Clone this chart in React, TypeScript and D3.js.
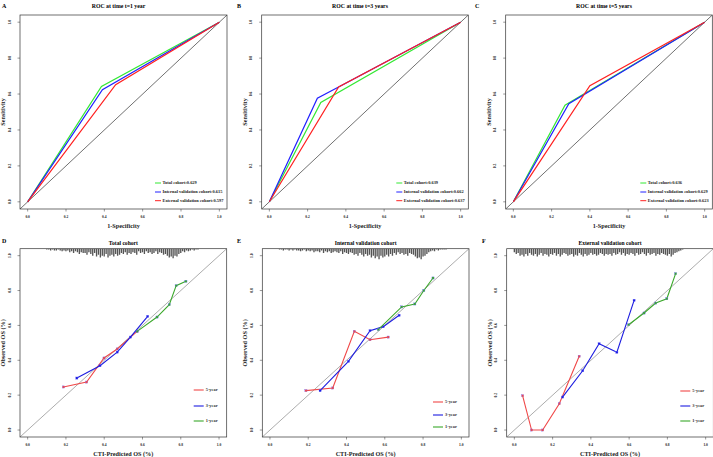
import React, { useEffect } from "react";
import * as d3 from "d3";

// ---------- DATA ----------
const rocTitles = ["ROC at time t=1 year", "ROC at time t=3 years", "ROC at time t=5 years"];
const rocLetters = ["A", "B", "C"];
const cohortNames = ["Total cohort", "Internal validation cohort", "External validation cohort"];
const rocAUC_A = [0.629, 0.615, 0.597];
const rocAUC_B = [0.639, 0.662, 0.637];
const rocAUC_C = [0.636, 0.629, 0.623];

// ROC points [1-specificity, sensitivity]
const rocA_total: [number, number][] = [[0, 0], [0.385, 0.642], [1, 1]];
const rocA_internal: [number, number][] = [[0, 0], [0.39, 0.624], [1, 1]];
const rocA_external: [number, number][] = [[0, 0], [0.459, 0.652], [1, 1]];
const rocB_total: [number, number][] = [[0, 0], [0.269, 0.553], [1, 1]];
const rocB_internal: [number, number][] = [[0, 0], [0.251, 0.577], [0.362, 0.639], [1, 1]];
const rocB_external: [number, number][] = [[0, 0], [0.362, 0.639], [1, 1]];
const rocC_total: [number, number][] = [[0, 0], [0.27, 0.538], [1, 1]];
const rocC_internal: [number, number][] = [[0, 0], [0.29, 0.546], [1, 1]];
const rocC_external: [number, number][] = [[0, 0], [0.4, 0.646], [1, 1]];

const calTitles = ["Total cohort", "Internal validation cohort", "External validation cohort"];
const calLetters = ["D", "E", "F"];
const calSeriesNames = ["5-year", "3-year", "1-year"];

// Calibration points [predicted, observed]
const calD_5yr: [number, number][] = [[0.187, 0.247], [0.308, 0.275], [0.399, 0.413], [0.468, 0.465], [0.572, 0.566]];
const calD_3yr: [number, number][] = [[0.257, 0.298], [0.378, 0.369], [0.468, 0.447], [0.537, 0.533], [0.627, 0.652]];
const calD_1yr: [number, number][] = [[0.572, 0.566], [0.676, 0.648], [0.74, 0.719], [0.776, 0.828], [0.827, 0.853]];
const calE_5yr: [number, number][] = [[0.188, 0.226], [0.328, 0.241], [0.441, 0.566], [0.523, 0.518], [0.618, 0.533]];
const calE_3yr: [number, number][] = [[0.262, 0.226], [0.41, 0.394], [0.523, 0.57], [0.592, 0.593], [0.675, 0.658]];
const calE_1yr: [number, number][] = [[0.566, 0.576], [0.688, 0.706], [0.757, 0.723], [0.804, 0.8], [0.852, 0.872]];
const calF_5yr: [number, number][] = [[0.043, 0.197], [0.09, 0.0], [0.148, 0.0], [0.235, 0.151], [0.339, 0.423]];
const calF_3yr: [number, number][] = [[0.252, 0.189], [0.357, 0.34], [0.443, 0.495], [0.536, 0.446], [0.626, 0.744]];
const calF_1yr: [number, number][] = [[0.597, 0.604], [0.678, 0.671], [0.739, 0.728], [0.797, 0.753], [0.843, 0.897]];

// Spike histogram of predicted values (counts per 0.01 bin)
const rugD_start = 0.1;
const rugD_counts = [
  1, 1, 2, 1, 2, 2, 1, 2, 3, 2,
  3, 2, 4, 3, 5, 3, 4, 6, 4, 5,
  5, 7, 4, 6, 8, 5, 9, 7, 10, 8,
  9, 6, 10, 8, 7, 9, 6, 8, 7, 5,
  6, 4, 7, 5, 6, 4, 5, 7, 3, 5,
  4, 6, 3, 5, 4, 6, 5, 3, 6, 4,
  5, 7, 6, 8, 10, 9, 11, 8, 9, 6,
  5, 3, 4, 2, 3, 2, 1, 2, 1, 1,
];
const rugE_start = 0.05;
const rugE_counts = [
  1, 1, 2, 1, 1, 2, 1, 2, 1, 2,
  2, 3, 2, 1, 3, 2, 3, 2, 4, 3,
  3, 4, 2, 5, 3, 4, 3, 5, 4, 3,
  4, 5, 3, 6, 4, 5, 6, 4, 5, 7,
  6, 8, 5, 7, 9, 6, 8, 7, 10, 8,
  11, 9, 12, 8, 10, 9, 7, 9, 6, 8,
  5, 7, 4, 6, 5, 7, 6, 8, 5, 6,
  7, 9, 11, 10, 12, 9, 8, 6, 4, 3,
  2, 3, 1, 2, 1, 1, 1, 1,
];
const rugF_start = 0.0;
const rugF_counts = [
  4, 6, 5, 8, 7, 9, 6, 8, 5, 7,
  8, 6, 9, 7, 5, 8, 6, 7, 9, 6,
  7, 5, 8, 6, 9, 7, 5, 6, 8, 7,
  6, 9, 7, 8, 5, 7, 9, 6, 8, 7,
  5, 7, 6, 8, 7, 5, 6, 8, 6, 7,
  6, 8, 5, 7, 6, 4, 7, 5, 8, 6,
  7, 5, 6, 8, 5, 7, 6, 4, 6, 8,
  5, 7, 6, 5, 8, 6, 7, 5, 6, 7,
  8, 6, 9, 7, 5, 4, 3, 2, 1,
];

const tickValues = [0, 0.2, 0.4, 0.6, 0.8, 1.0];
const tickLabels = ["0.0", "0.2", "0.4", "0.6", "0.8", "1.0"];

// ---------- STYLE / LAYOUT ----------
const W = 713, H = 457;
const FONT = "'Liberation Serif', 'Times New Roman', serif";
const rocColors = ["#33e833", "#2020ff", "#ff2020"];
const calColors = ["#f04848", "#1c1ce0", "#3aa82a"];

type Box = { x0: number; x1: number; y0: number; y1: number };

const rocBoxes: Box[] = [
  { x0: 20, x1: 227, y0: 15, y1: 209 },
  { x0: 261.7, x1: 468.3, y0: 15, y1: 209 },
  { x0: 505.7, x1: 712.3, y0: 15, y1: 209 },
];
const rocLetterX = [2, 237, 475];
const calBoxes: Box[] = [
  { x0: 20, x1: 226.7, y0: 248.7, y1: 437 },
  { x0: 262.3, x1: 469, y0: 248.7, y1: 437 },
  { x0: 506.7, x1: 713.3, y0: 248.7, y1: 437 },
];
const calLetterX = [2, 237, 482];
const calLegendDx = [-33, -36, -33];
const calLegendRows = [[-47, -31, -16], [-35, -22, -10], [-46, -31, -16]];

function scales(b: Box) {
  const x = d3.scaleLinear().domain([-0.04, 1.04]).range([b.x0, b.x1]);
  const y = d3.scaleLinear().domain([-0.04, 1.04]).range([b.y1, b.y0]);
  return { x, y };
}

function Axes({ b, xTitle, yTitle }: { b: Box; xTitle: string; yTitle: string }) {
  const { x, y } = scales(b);
  const cx = (b.x0 + b.x1) / 2;
  const cy = (b.y0 + b.y1) / 2;
  return (
    <g fontFamily={FONT} fontWeight="bold" fill="#222">
      <rect x={b.x0} y={b.y0} width={b.x1 - b.x0} height={b.y1 - b.y0} fill="none" stroke="#333" strokeWidth={0.7} />
      {tickValues.map((t, i) => (
        <g key={"x" + i}>
          <line x1={x(t)} x2={x(t)} y1={b.y1} y2={b.y1 + 2.5} stroke="#333" strokeWidth={0.5} />
          <text x={x(t)} y={b.y1 + 9} fontSize={3.6} textAnchor="middle">{tickLabels[i]}</text>
          <line x1={b.x0} x2={b.x0 - 2.5} y1={y(t)} y2={y(t)} stroke="#333" strokeWidth={0.5} />
          <text transform={`translate(${b.x0 - 10.5},${y(t)}) rotate(-90)`} fontSize={3.6} textAnchor="middle" dy="1.2">{tickLabels[i]}</text>
        </g>
      ))}
      <text x={cx} y={b.y1 + 19} fontSize={6.2} textAnchor="middle">{xTitle}</text>
      <text transform={`translate(${b.x0 - 15},${cy}) rotate(-90)`} fontSize={6.2} textAnchor="middle">{yTitle}</text>
    </g>
  );
}

function RocPanel({ idx, curves, aucs }: { idx: number; curves: [number, number][][]; aucs: number[] }) {
  const b = rocBoxes[idx];
  const { x, y } = scales(b);
  const line = d3.line<[number, number]>().x((d) => x(d[0])).y((d) => y(d[1]));
  const cx = (b.x0 + b.x1) / 2;
  return (
    <g>
      <defs>
        <clipPath id={"rc" + idx}><rect x={b.x0} y={b.y0} width={b.x1 - b.x0} height={b.y1 - b.y0} /></clipPath>
      </defs>
      <text x={rocLetterX[idx]} y={8} fontFamily={FONT} fontWeight="bold" fontSize={6}>{rocLetters[idx]}</text>
      <text x={cx - 5} y={8} fontFamily={FONT} fontWeight="bold" fontSize={5.8} textAnchor="middle">{rocTitles[idx]}</text>
      <line clipPath={`url(#rc${idx})`} x1={x(-0.04)} y1={y(-0.04)} x2={x(1.04)} y2={y(1.04)} stroke="#111" strokeWidth={0.6} />
      {curves.map((c, i) => (
        <path key={i} d={line(c) || ""} fill="none" stroke={rocColors[i]} strokeWidth={1.2} />
      ))}
      <Axes b={b} xTitle="1-Specificity" yTitle="Sensitivity" />
      <g fontFamily={FONT} fontWeight="bold" fontSize={4.4} fill="#222">
        {cohortNames.map((n, i) => {
          const ly = b.y1 + [-26, -17, -8.3][i];
          const lx = b.x1 - 72;
          return (
            <g key={i}>
              <line x1={lx} x2={lx + 6} y1={ly} y2={ly} stroke={rocColors[i]} strokeWidth={1} />
              <text x={lx + 7.5} y={ly + 1.4}>{`${n}:${aucs[i].toFixed(3)}`}</text>
            </g>
          );
        })}
      </g>
    </g>
  );
}

function CalPanel({ idx, series, rugStart, rugCounts }: { idx: number; series: [number, number][][]; rugStart: number; rugCounts: number[] }) {
  const b = calBoxes[idx];
  const { x, y } = scales(b);
  const line = d3.line<[number, number]>().x((d) => x(d[0])).y((d) => y(d[1]));
  const cx = (b.x0 + b.x1) / 2;
  const hScale = d3.scaleLinear().domain([0, 12]).range([0, 10.5]);
  return (
    <g>
      <defs>
        <clipPath id={"cc" + idx}><rect x={b.x0} y={b.y0} width={b.x1 - b.x0} height={b.y1 - b.y0} /></clipPath>
      </defs>
      <text x={calLetterX[idx]} y={243} fontFamily={FONT} fontWeight="bold" fontSize={6}>{calLetters[idx]}</text>
      <text x={cx} y={245} fontFamily={FONT} fontWeight="bold" fontSize={5.6} textAnchor="middle">{calTitles[idx]}</text>
      <g clipPath={`url(#cc${idx})`}>
        <line x1={x(-0.04)} y1={y(-0.04)} x2={x(1.04)} y2={y(1.04)} stroke="#666" strokeWidth={0.55} />
        {rugCounts.map((c, i) => {
          const px = x(rugStart + i * 0.01);
          return <line key={i} x1={px} x2={px} y1={b.y0} y2={b.y0 + hScale(c)} stroke="#555" strokeWidth={1.35} />;
        })}
      </g>
      {series.map((s, i) => (
        <g key={i}>
          <path d={line(s) || ""} fill="none" stroke={calColors[i]} strokeWidth={1.1} />
          {s.map((p, j) => (
            <rect key={j} x={x(p[0]) - 1.1} y={y(p[1]) - 1.1} width={2.2} height={2.2} fill={calColors[i]} stroke="#6a6aff" strokeWidth={0.3} />
          ))}
        </g>
      ))}
      <Axes b={b} xTitle="CTI-Predicted  OS (%)" yTitle="Observed OS (%)" />
      <g fontFamily={FONT} fontWeight="bold" fontSize={4.4} fill="#333">
        {calSeriesNames.map((n, i) => {
          const ly = b.y1 + calLegendRows[idx][i];
          const lx = b.x1 + calLegendDx[idx];
          return (
            <g key={i}>
              <line x1={lx} x2={lx + 10} y1={ly} y2={ly} stroke={calColors[i]} strokeWidth={1.1} />
              <text x={lx + 12} y={ly + 1.4}>{n}</text>
            </g>
          );
        })}
      </g>
    </g>
  );
}

export default function App() {
  useEffect(() => {
    document.body.style.margin = "0";
  }, []);
  return (
    <svg width={W} height={H} viewBox={`0 0 ${W} ${H}`} style={{ position: "absolute", left: 0, top: 0, background: "#fff" }}>
      <rect x={0} y={0} width={W} height={H} fill="#fff" />
      <RocPanel idx={0} curves={[rocA_total, rocA_internal, rocA_external]} aucs={rocAUC_A} />
      <RocPanel idx={1} curves={[rocB_total, rocB_internal, rocB_external]} aucs={rocAUC_B} />
      <RocPanel idx={2} curves={[rocC_total, rocC_internal, rocC_external]} aucs={rocAUC_C} />
      <CalPanel idx={0} series={[calD_5yr, calD_3yr, calD_1yr]} rugStart={rugD_start} rugCounts={rugD_counts} />
      <CalPanel idx={1} series={[calE_5yr, calE_3yr, calE_1yr]} rugStart={rugE_start} rugCounts={rugE_counts} />
      <CalPanel idx={2} series={[calF_5yr, calF_3yr, calF_1yr]} rugStart={rugF_start} rugCounts={rugF_counts} />
    </svg>
  );
}
